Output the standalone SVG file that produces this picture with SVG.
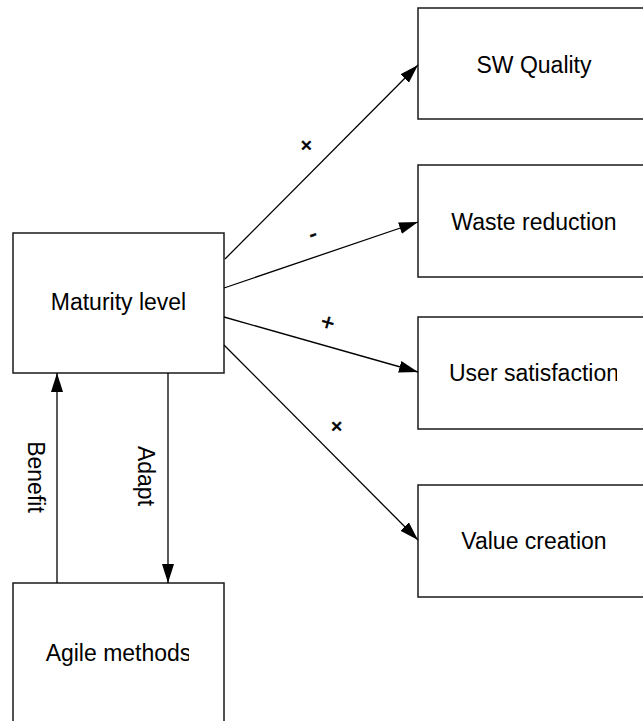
<svg xmlns="http://www.w3.org/2000/svg" width="643" height="721" viewBox="0 0 643 721">
  <style>
    .box { fill: #ffffff; stroke: #1a1a1a; stroke-width: 1.5; }
    .lbl { font-family: "Liberation Sans", Arial, sans-serif; font-size: 23px; fill: #000000; text-anchor: middle; }
    .sign { font-family: "Liberation Sans", Arial, sans-serif; font-size: 23px; fill: #000000; text-anchor: middle; stroke: #000000; stroke-width: 0.6; }
    .conn { stroke: #000000; stroke-width: 1.3; fill: none; marker-end: url(#arrow); }
  </style>
  <defs>
    <marker id="arrow" markerUnits="userSpaceOnUse" markerWidth="20" markerHeight="13" refX="19" refY="6" orient="auto">
      <path d="M0,0 L19,6 L0,12 z" fill="#000000"/>
    </marker>
    <clipPath id="clipLeft"><rect x="13" y="0" width="176" height="721"/></clipPath>
    <clipPath id="clipRight"><rect x="418" y="0" width="199" height="721"/></clipPath>
  </defs>
  <rect x="0" y="0" width="643" height="721" fill="#ffffff"/>

  <g id="maturity">
    <rect class="box" x="13" y="233" width="211" height="140"/>
    <text class="lbl" x="118.5" y="310">Maturity level</text>
  </g>
  <g id="agile">
    <rect class="box" x="13" y="583" width="211" height="140"/>
    <text class="lbl" x="118.5" y="661" clip-path="url(#clipLeft)">Agile methods</text>
  </g>
  <g id="swquality">
    <rect class="box" x="418" y="8" width="232" height="111"/>
    <text class="lbl" x="534" y="72.5" clip-path="url(#clipRight)">SW Quality</text>
  </g>
  <g id="waste">
    <rect class="box" x="418" y="165" width="232" height="112"/>
    <text class="lbl" x="534" y="230" clip-path="url(#clipRight)">Waste reduction</text>
  </g>
  <g id="user">
    <rect class="box" x="418" y="317" width="232" height="112"/>
    <text class="lbl" x="534" y="380.5" clip-path="url(#clipRight)">User satisfaction</text>
  </g>
  <g id="value">
    <rect class="box" x="418" y="485" width="232" height="112"/>
    <text class="lbl" x="534" y="549" clip-path="url(#clipRight)">Value creation</text>
  </g>

  <g id="connectors">
    <line class="conn" x1="225" y1="259" x2="418" y2="65"/>
    <line class="conn" x1="224" y1="288" x2="418" y2="222"/>
    <line class="conn" x1="224" y1="317" x2="418" y2="372"/>
    <line class="conn" x1="224" y1="345" x2="418" y2="540"/>
    <line class="conn" x1="57" y1="583" x2="57" y2="373"/>
    <line class="conn" x1="168" y1="373" x2="168" y2="583"/>

    <text class="sign" x="306" y="153.2" transform="rotate(-45 306 145)">+</text>
    <text class="sign" x="313" y="241.4" transform="rotate(-19 313 235)">-</text>
    <text class="sign" x="328" y="330.2" transform="rotate(16 328 322)">+</text>
    <text class="sign" x="337" y="434.2" transform="rotate(45 337 426)">+</text>

    <text class="lbl" x="36" y="477" dy="0.35em" transform="rotate(90 36 477)">Benefit</text>
    <text class="lbl" x="146" y="476" dy="0.35em" transform="rotate(90 146 476)">Adapt</text>
  </g>
</svg>
